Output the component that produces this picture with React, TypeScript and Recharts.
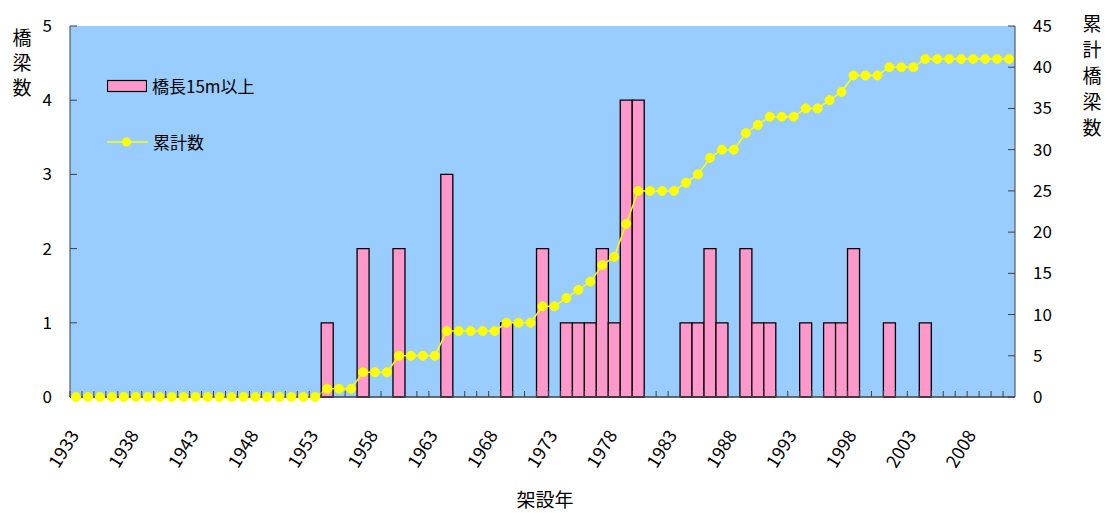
import React from 'react';
import { ComposedChart, Bar, Line, XAxis, YAxis, CartesianGrid } from 'recharts';

// 架設年 (1933 - 2011)
const years = [
  1933, 1934, 1935, 1936, 1937, 1938, 1939, 1940, 1941, 1942,
  1943, 1944, 1945, 1946, 1947, 1948, 1949, 1950, 1951, 1952,
  1953, 1954, 1955, 1956, 1957, 1958, 1959, 1960, 1961, 1962,
  1963, 1964, 1965, 1966, 1967, 1968, 1969, 1970, 1971, 1972,
  1973, 1974, 1975, 1976, 1977, 1978, 1979, 1980, 1981, 1982,
  1983, 1984, 1985, 1986, 1987, 1988, 1989, 1990, 1991, 1992,
  1993, 1994, 1995, 1996, 1997, 1998, 1999, 2000, 2001, 2002,
  2003, 2004, 2005, 2006, 2007, 2008, 2009, 2010, 2011,
];

// 橋長15m以上 (bridges per year)
const bridgeCounts = [
  0, 0, 0, 0, 0, 0, 0, 0, 0, 0,
  0, 0, 0, 0, 0, 0, 0, 0, 0, 0,
  0, 1, 0, 0, 2, 0, 0, 2, 0, 0,
  0, 3, 0, 0, 0, 0, 1, 0, 0, 2,
  0, 1, 1, 1, 2, 1, 4, 4, 0, 0,
  0, 1, 1, 2, 1, 0, 2, 1, 1, 0,
  0, 1, 0, 1, 1, 2, 0, 0, 1, 0,
  0, 1, 0, 0, 0, 0, 0, 0, 0,
];

// 累計数 (cumulative)
const cumulative = [
  0, 0, 0, 0, 0, 0, 0, 0, 0, 0,
  0, 0, 0, 0, 0, 0, 0, 0, 0, 0,
  0, 1, 1, 1, 3, 3, 3, 5, 5, 5,
  5, 8, 8, 8, 8, 8, 9, 9, 9, 11,
  11, 12, 13, 14, 16, 17, 21, 25, 25, 25,
  25, 26, 27, 29, 30, 30, 32, 33, 34, 34,
  34, 35, 35, 36, 37, 39, 39, 39, 40, 40,
  40, 41, 41, 41, 41, 41, 41, 41, 41,
];

const leftTicks = [0, 1, 2, 3, 4, 5];
const rightTicks = [0, 5, 10, 15, 20, 25, 30, 35, 40, 45];

const data = years.map((year, i) => ({
  year,
  count: bridgeCounts[i],
  total: cumulative[i],
}));

const AXIS = '#404040';
const FONT = '"Noto Sans CJK JP", "Noto Sans", sans-serif';

const YearTick = (props: any) => {
  const { x, y, payload, index } = props;
  const half = payload && payload.offset ? payload.offset : 0;
  const bx = x - half;
  const ax = x - 3;
  const ay = y + 34;
  return (
    <g>
      <line x1={bx} x2={bx} y1={y} y2={y - 6} stroke={AXIS} strokeWidth={1} />
      {index % 5 === 0 && (
        <text
          x={ax}
          y={ay}
          transform={`rotate(-58, ${ax}, ${ay})`}
          textAnchor="end"
          dominantBaseline="central"
          fontSize={18}
          fill="#000"
        >
          {payload.value}
        </text>
      )}
    </g>
  );
};

const VerticalTitle = ({ text, left, top, step }: { text: string; left: number; top: number; step: number }) => (
  <div style={{ position: 'absolute', left, top, width: 24, fontSize: 19, textAlign: 'center' }}>
    {text.split('').map((c, i) => (
      <div key={i} style={{ height: step, lineHeight: `${step}px` }}>{c}</div>
    ))}
  </div>
);

export default function App() {
  return (
    <div style={{ position: 'absolute', left: 0, top: 0, width: 1107, height: 513, background: '#fff', fontFamily: FONT }}>
      <ComposedChart
        width={1107}
        height={513}
        data={data}
        margin={{ top: 26, right: 0, left: 0, bottom: 0 }}
        barCategoryGap={0}
        barGap={0}
      >
        <CartesianGrid horizontal={false} vertical={false} fill="#99CCFF" />
        <XAxis
          dataKey="year"
          xAxisId={0}
          height={116}
          interval={0}
          tickSize={0}
          tickMargin={0}
          tickLine={false}
          axisLine={{ stroke: AXIS, strokeWidth: 1.5 }}
          tick={<YearTick />}
        />
        <YAxis
          yAxisId="left"
          orientation="left"
          width={70}
          domain={[0, 5]}
          ticks={leftTicks}
          tickSize={-7}
          tickMargin={25}
          axisLine={{ stroke: AXIS }}
          tickLine={{ stroke: AXIS }}
          tick={{ fill: '#000', fontSize: 17 }}
        />
        <YAxis
          yAxisId="right"
          orientation="right"
          width={92}
          domain={[0, 45]}
          ticks={rightTicks}
          tickSize={-7}
          tickMargin={25}
          axisLine={{ stroke: AXIS }}
          tickLine={{ stroke: AXIS }}
          tick={{ fill: '#000', fontSize: 17 }}
        />
        <Bar
          yAxisId="left"
          dataKey="count"
          fill="#FF99CC"
          stroke="#000"
          strokeWidth={1.3}
          isAnimationActive={false}
        />
        <Line
          yAxisId="right"
          dataKey="total"
          stroke="#FFFF00"
          strokeWidth={1.5}
          dot={{ r: 4.5, fill: '#FFFF00', stroke: '#FFFF00', strokeWidth: 1 }}
          activeDot={false}
          isAnimationActive={false}
        />
      </ComposedChart>

      {/* legend */}
      <div style={{ position: 'absolute', left: 107, top: 73, display: 'flex', alignItems: 'center', fontSize: 17 }}>
        <svg width={40} height={14}>
          <rect x={0.5} y={1.5} width={39} height={11} fill="#FF99CC" stroke="#000" strokeWidth={1.2} />
        </svg>
        <span style={{ marginLeft: 5 }}>橋長15m以上</span>
      </div>
      <div style={{ position: 'absolute', left: 107, top: 129, display: 'flex', alignItems: 'center', fontSize: 17 }}>
        <svg width={41} height={24}>
          <line x1={0} x2={41} y1={12} y2={12} stroke="#FFFF00" strokeWidth={1.5} />
          <circle cx={19.5} cy={12} r={4.5} fill="#FFFF00" />
        </svg>
        <span style={{ marginLeft: 5 }}>累計数</span>
      </div>

      {/* axis titles */}
      <VerticalTitle text="橋梁数" left={10} top={24} step={25} />
      <VerticalTitle text="累計橋梁数" left={1080} top={10} step={26} />
      <div style={{ position: 'absolute', left: 495, top: 488, width: 100, height: 22, lineHeight: '22px', textAlign: 'center', fontSize: 19 }}>架設年</div>
    </div>
  );
}
